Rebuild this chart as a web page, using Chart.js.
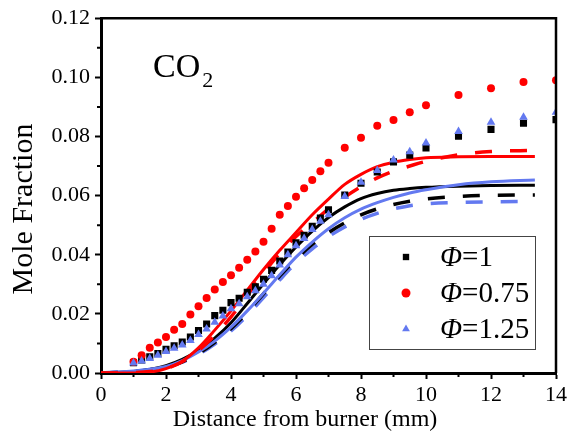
<!DOCTYPE html>
<html>
<head>
<meta charset="utf-8">
<script src="https://cdn.jsdelivr.net/npm/chart.js@4.4.0/dist/chart.umd.min.js"></script>
<style>
  body { margin: 0; background: #fff; }
  #wrap { width: 577px; height: 441px; }
</style>
</head>
<body>
<div id="wrap"><canvas id="co2Chart" width="577" height="441"></canvas></div>
<script>
// measured points (distance in mm)
const expX = [1, 1.25, 1.5, 1.75, 2, 2.25, 2.5, 2.75, 3, 3.25, 3.5, 3.75, 4, 4.25, 4.5, 4.75, 5,
  5.25, 5.5, 5.75, 6, 6.25, 6.5, 6.75, 7, 7.5, 8, 8.5, 9, 9.5, 10, 11, 12, 13, 14];
const phi1 = [0.0035, 0.0044, 0.0055, 0.0066, 0.008, 0.0092, 0.0105, 0.0122, 0.0144, 0.0166, 0.0194,
  0.0212, 0.0238, 0.0253, 0.0273, 0.0292, 0.0317, 0.0347, 0.0379, 0.0409, 0.044, 0.0466, 0.0496,
  0.0524, 0.0552, 0.0602, 0.0642, 0.068, 0.0714, 0.0737, 0.0761, 0.0801, 0.0824, 0.0845, 0.0857];
const phi075 = [0.0038, 0.006, 0.0085, 0.0103, 0.0122, 0.0146, 0.0166, 0.0198, 0.0226, 0.0254, 0.0282,
  0.0308, 0.0331, 0.0356, 0.0383, 0.0411, 0.0444, 0.0488, 0.0535, 0.0565, 0.0596, 0.0625, 0.0653,
  0.0682, 0.0711, 0.0762, 0.0796, 0.0836, 0.0856, 0.0882, 0.0906, 0.094, 0.0963, 0.0984, 0.099];
const phi125 = [0.0034, 0.0041, 0.0049, 0.006, 0.0073, 0.0084, 0.0095, 0.011, 0.013, 0.0149, 0.0172,
  0.0193, 0.0217, 0.0234, 0.0258, 0.0278, 0.03, 0.0329, 0.0365, 0.04, 0.043, 0.0455, 0.0485,
  0.0513, 0.0535, 0.0597, 0.0645, 0.0685, 0.072, 0.0748, 0.0778, 0.0817, 0.0848, 0.0865, 0.0882];

// simulated profiles
const simX = [0, 0.5, 1, 1.5, 2, 2.5, 3, 3.5, 4, 4.5, 5, 5.5, 6, 6.5, 7, 7.5, 8, 8.5, 9, 9.5, 10, 11, 12, 13.35];
const phi1Solid = [0, 0.0002, 0.0005, 0.0012, 0.0025, 0.0046, 0.0077, 0.0118, 0.017, 0.0235, 0.0302, 0.0366,
  0.0426, 0.048, 0.0526, 0.0562, 0.059, 0.0607, 0.0618, 0.0624, 0.0628, 0.0632, 0.0634, 0.0635];
const phi1Dash = [0, 0.0002, 0.0004, 0.001, 0.002, 0.0038, 0.0066, 0.0104, 0.015, 0.0205, 0.0268, 0.0328,
  0.0385, 0.0435, 0.0475, 0.0508, 0.0535, 0.0555, 0.057, 0.0581, 0.0589, 0.0597, 0.0601, 0.0602];
const phi075Solid = [0, 0, 0, 0.0003, 0.0015, 0.004, 0.0085, 0.0145, 0.021, 0.028, 0.035, 0.0415,
  0.0475, 0.0535, 0.0588, 0.0638, 0.0672, 0.0698, 0.0713, 0.0722, 0.0728, 0.0731, 0.0732, 0.0732];
const phi075Dash = [0, 0, 0.0001, 0.0005, 0.0015, 0.0038, 0.0076, 0.0128, 0.019, 0.0262, 0.0338, 0.0405,
  0.0462, 0.0508, 0.0555, 0.0595, 0.063, 0.066, 0.0683, 0.07, 0.0716, 0.0738, 0.0749, 0.0753];
const phi125Solid = [0, 0.0003, 0.0007, 0.0013, 0.0022, 0.0042, 0.0071, 0.0108, 0.0155, 0.021, 0.027, 0.0332,
  0.0392, 0.0443, 0.0488, 0.0525, 0.0554, 0.0576, 0.0594, 0.0609, 0.062, 0.0637, 0.0647, 0.0653];
const phi125Dash = [0, 0.0003, 0.0006, 0.0012, 0.0021, 0.0037, 0.0063, 0.0098, 0.0142, 0.0195, 0.0255, 0.0315,
  0.0372, 0.042, 0.0461, 0.0494, 0.052, 0.054, 0.0555, 0.0566, 0.0572, 0.0577, 0.0579, 0.058];

const xTicks = [0, 2, 4, 6, 8, 10, 12, 14];
const yTicks = [0, 0.02, 0.04, 0.06, 0.08, 0.10, 0.12];
const legendLabels = ["=1", "=0.75", "=1.25"];
const xTitle = "Distance from burner (mm)";
const yTitle = "Mole Fraction";

const RED = "#ff0000";
const BLACK = "#000000";
const BLUE = "#6379f0";
const SERIF = "'Liberation Serif', 'Times New Roman', serif";

function pts(xs, ys) {
  return xs.map((x, i) => ({ x: x, y: ys[i] }));
}

function markerSet(label, ys, color, style, r, order) {
  return {
    label: label, data: pts(expX, ys), showLine: false,
    pointStyle: style, pointRadius: r, pointHoverRadius: r,
    backgroundColor: color, borderColor: color, borderWidth: 0,
    clip: 0, order: order
  };
}

function simLine(ys, color, dashed, order) {
  return {
    data: pts(simX, ys), showLine: true, pointRadius: 0,
    borderColor: color, backgroundColor: color,
    borderWidth: dashed ? 3.5 : 3, borderDash: dashed ? [17, 18] : [],
    cubicInterpolationMode: "monotone", order: order
  };
}

const datasets = [
  markerSet(legendLabels[0], phi1, BLACK, "rect", 5, 3),
  markerSet(legendLabels[1], phi075, RED, "circle", 4, 2),
  markerSet(legendLabels[2], phi125, BLUE, "triangle", 5, 1),
  simLine(phi1Solid, BLACK, false, 6),
  simLine(phi1Dash, BLACK, true, 7),
  simLine(phi125Solid, BLUE, false, 5),
  simLine(phi125Dash, BLUE, true, 8),
  simLine(phi075Solid, RED, false, 4),
  simLine(phi075Dash, RED, true, 4)
];

const extras = {
  id: "extras",
  afterDraw(chart) {
    const ctx = chart.ctx;
    const a = chart.chartArea;
    const xs = chart.scales.x, ys = chart.scales.y;
    ctx.save();
    // frame top and right
    ctx.strokeStyle = BLACK;
    ctx.lineWidth = 2.5;
    ctx.beginPath();
    ctx.moveTo(a.left, a.top);
    ctx.lineTo(a.right, a.top);
    ctx.lineTo(a.right, a.bottom);
    ctx.stroke();
    // minor ticks
    ctx.lineWidth = 2;
    ctx.beginPath();
    for (let v = 1; v < 14; v += 2) {
      const px = xs.getPixelForValue(v);
      ctx.moveTo(px, a.bottom);
      ctx.lineTo(px, a.bottom + 4);
    }
    for (let k = 1; k < 12; k += 2) {
      const py = ys.getPixelForValue(k / 100);
      ctx.moveTo(a.left, py);
      ctx.lineTo(a.left - 4, py);
    }
    ctx.stroke();

    // axis titles
    ctx.fillStyle = BLACK;
    ctx.textAlign = "center";
    ctx.textBaseline = "middle";
    ctx.font = "24px " + SERIF;
    ctx.fillText(xTitle, 305, 420);
    ctx.save();
    ctx.translate(24, 209);
    ctx.rotate(-Math.PI / 2);
    ctx.font = "30px " + SERIF;
    ctx.fillText(yTitle, 0, 0);
    ctx.restore();

    // CO2 label
    ctx.textBaseline = "alphabetic";
    ctx.textAlign = "left";
    ctx.font = "34px " + SERIF;
    ctx.fillText("CO", 153, 77);
    const w = ctx.measureText("CO").width;
    ctx.font = "22px " + SERIF;
    ctx.fillText("2", 153 + w + 2, 87);

    // legend box
    const bx = 369, by = 236, bw = 166, bh = 113;
    ctx.fillStyle = "#fff";
    ctx.fillRect(bx, by, bw, bh);
    ctx.strokeStyle = "#444";
    ctx.lineWidth = 1;
    ctx.strokeRect(bx + 0.5, by + 0.5, bw, bh);
    const rows = [257, 293, 329];
    for (let i = 0; i < 3; i++) {
      const ds = chart.data.datasets[i];
      ctx.fillStyle = ds.backgroundColor;
      Chart.helpers.drawPoint(ctx, { pointStyle: ds.pointStyle, radius: 4.5, borderWidth: 0 }, 406, rows[i]);
      ctx.fillStyle = BLACK;
      ctx.font = "italic 29px " + SERIF;
      ctx.textBaseline = "middle";
      ctx.fillText("Φ", 440, rows[i] + 1);
      const pw = ctx.measureText("Φ").width;
      ctx.font = "29px " + SERIF;
      ctx.fillText(ds.label, 440 + pw, rows[i] + 1);
    }
    ctx.restore();
  }
};

new Chart(document.getElementById("co2Chart"), {
  type: "scatter",
  data: { datasets: datasets },
  options: {
    responsive: false,
    animation: false,
    layout: { padding: { left: 0, top: 12, right: 21, bottom: 0 } },
    plugins: { legend: { display: false }, tooltip: { enabled: false } },
    scales: {
      x: {
        type: "linear", min: 0, max: 14,
        afterFit: (s) => { s.height = 68; },
        afterBuildTicks: (s) => { s.ticks = xTicks.map((v) => ({ value: v })); },
        ticks: { color: BLACK, font: { family: SERIF, size: 22 }, padding: 3, maxRotation: 0,
          callback: (v) => String(v) },
        grid: { drawOnChartArea: false, drawTicks: true, tickLength: 6, tickWidth: 2, tickColor: BLACK },
        border: { display: true, width: 3, color: BLACK },
        title: { display: false, text: xTitle }
      },
      y: {
        type: "linear", min: 0, max: 0.12,
        afterFit: (s) => { s.width = 101; },
        afterBuildTicks: (s) => { s.ticks = yTicks.map((v) => ({ value: v })); },
        ticks: { color: BLACK, font: { family: SERIF, size: 22 }, padding: 5,
          callback: (v) => v.toFixed(2) },
        grid: { drawOnChartArea: false, drawTicks: true, tickLength: 6, tickWidth: 2, tickColor: BLACK },
        border: { display: true, width: 3, color: BLACK },
        title: { display: false, text: yTitle }
      }
    }
  },
  plugins: [extras]
});
</script>
</body>
</html>
